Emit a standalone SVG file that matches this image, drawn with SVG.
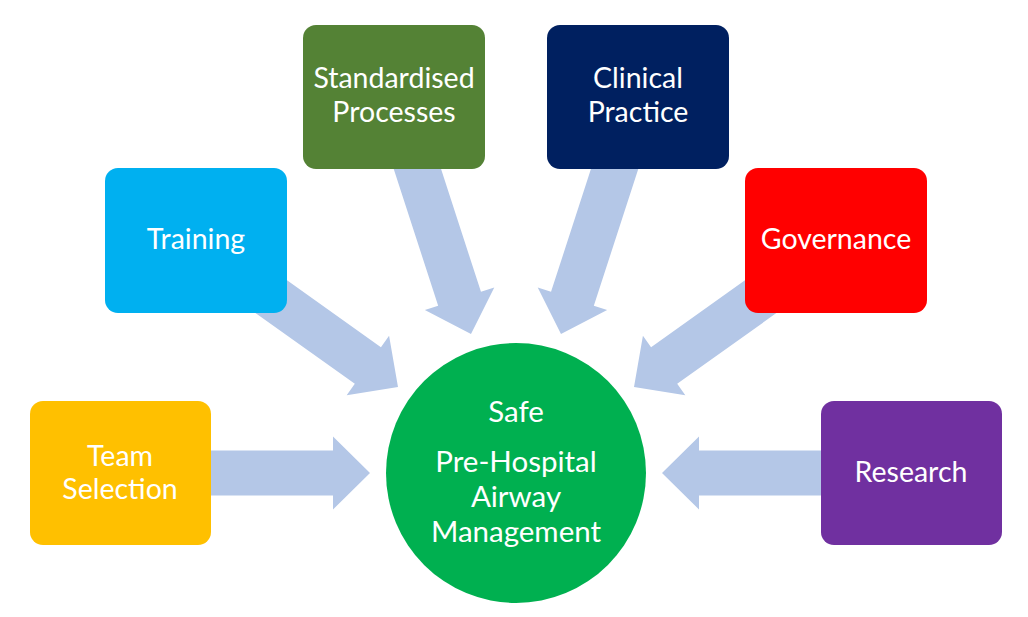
<svg xmlns="http://www.w3.org/2000/svg" width="1028" height="617" viewBox="0 0 1028 617">
<style>
.arrow{fill:#B4C7E7}
.box text,.hub text{font-family:Lato,"Open Sans","Liberation Sans",sans-serif;font-size:28.5px;fill:#ffffff;text-anchor:middle}
.hub text{font-size:29.5px}
</style>
<defs>
<path id="arr" d="M-170,-22.5 L-37,-22.5 L-37,-36.5 L0,0 L-37,36.5 L-37,22.5 L-170,22.5 Z"/>
<path id="arrL" d="M-190,-22.5 L-37,-22.5 L-37,-36.5 L0,0 L-37,36.5 L-37,22.5 L-190,22.5 Z"/>
</defs>
<rect width="1028" height="617" fill="#ffffff"/>
<g id="connectors" class="arrow">
<use href="#arr" transform="translate(370,473)"/>
<use href="#arr" transform="translate(662,473) rotate(180)"/>
<use href="#arr" transform="translate(398,387) rotate(35.5)"/>
<use href="#arr" transform="translate(634,387) rotate(144.5)"/>
<use href="#arrL" transform="translate(471,334) rotate(72)"/>
<use href="#arrL" transform="translate(561,334) rotate(108)"/>
</g>
<g id="team" class="box"><rect x="30" y="401" width="181" height="144" rx="13" fill="#FFC000"/><text x="120" y="466">Team</text><text x="120" y="499">Selection</text></g>
<g id="training" class="box"><rect x="105" y="168" width="182" height="145" rx="13" fill="#00B0F0"/><text x="196" y="249">Training</text></g>
<g id="standardised" class="box"><rect x="303" y="25" width="182" height="144" rx="13" fill="#548235"/><text x="394" y="88">Standardised</text><text x="394" y="122">Processes</text></g>
<g id="clinical" class="box"><rect x="547" y="25" width="182" height="144" rx="13" fill="#002060"/><text x="638" y="88">Clinical</text><text x="638" y="122">Practice</text></g>
<g id="governance" class="box"><rect x="745" y="168" width="182" height="145" rx="13" fill="#FF0000"/><text x="836" y="249">Governance</text></g>
<g id="research" class="box"><rect x="821" y="401" width="181" height="144" rx="13" fill="#7030A0"/><text x="911" y="482">Research</text></g>
<g id="hub" class="hub"><circle cx="516" cy="473" r="130" fill="#00B050"/>
<text x="516" y="422">Safe</text><text x="516" y="472">Pre-Hospital</text><text x="516" y="507">Airway</text><text x="516" y="542">Management</text></g>
</svg>
